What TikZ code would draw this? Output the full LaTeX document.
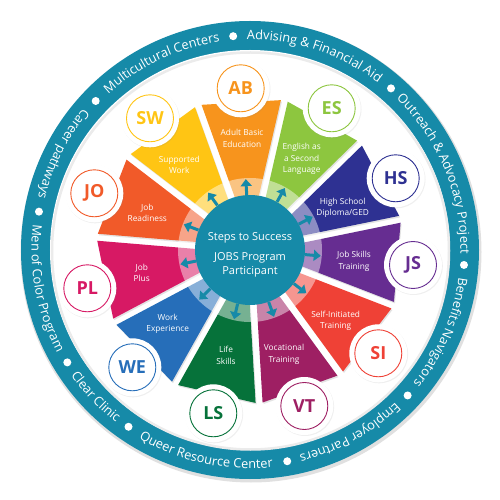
\documentclass[tikz,border=0pt]{standalone}
\usepackage{fontspec}
\setmainfont{Open Sans}
\newfontfamily\osans{Open Sans}
\newfontfamily\osansbold{Open Sans Bold}
\usetikzlibrary{calc,shadows,arrows.meta,decorations.text}
\definecolor{ringteal}{RGB}{22,138,168}
\definecolor{cAB}{RGB}{247,148,29}
\definecolor{cES}{RGB}{141,198,63}
\definecolor{cHS}{RGB}{46,49,146}
\definecolor{cJS}{RGB}{102,45,145}
\definecolor{cSI}{RGB}{239,65,54}
\definecolor{cVT}{RGB}{158,31,99}
\definecolor{cLS}{RGB}{6,114,58}
\definecolor{cWE}{RGB}{38,110,185}
\definecolor{cPL}{RGB}{215,25,100}
\definecolor{cJO}{RGB}{241,90,41}
\definecolor{cSW}{RGB}{255,197,20}
\newcommand{\ringfnt}{\osans\fontsize{12.8}{14}\selectfont}
\newcommand{\cwring}[2]{%
  \path[decorate, decoration={text along path, text align=center, text color=white,
     text={|\ringfnt|#2}}]
     (#1+40:210.5pt) arc[start angle=#1+40, end angle=#1-40, radius=210.5pt];}
\newcommand{\ccwring}[2]{%
  \path[decorate, decoration={text along path, text align=center, text color=white,
     text={|\ringfnt|#2}}]
     (#1-40:218.5pt) arc[start angle=#1-40, end angle=#1+40, radius=218.5pt];}
\tikzset{
  segtext/.style={text=white, align=center, font=\osans\fontsize{8.3}{11.5}\selectfont, inner sep=0pt},
  whitedisc/.style={circle, fill=white, minimum size=58pt, inner sep=0pt,
     drop shadow={opacity=0.12, shadow xshift=0.8pt, shadow yshift=-1pt}},
  labcirc/.style={circle, draw=#1, fill=white, line width=0.9pt, minimum size=47pt, inner sep=0pt,
     text=#1, font=\osansbold\fontsize{18}{18}\selectfont},
  centertext/.style={text=white, font=\osans\fontsize{11}{13}\selectfont, inner sep=0pt},
  spoke/.style={draw=ringteal, line width=3pt, -{Triangle[width=11pt,length=7pt]}},
  segshadow/.style={drop shadow={opacity=0.22, shadow xshift=1pt, shadow yshift=-1.5pt}}
}
\begin{document}
\begin{tikzpicture}
\useasboundingbox (-250pt,-250pt) rectangle (250pt,250pt);
\fill[white] (-250pt,-250pt) rectangle (250pt,250pt);
% outer ring
\fill[black!12] (1pt,-2pt) circle (230.5pt);
\fill[ringteal] (0,0) circle (229pt);
\fill[white] (0,0) circle (200pt);
\draw[black!8, line width=2.5pt] (0.5pt,-1pt) circle (198.5pt);
% ring texts
\cwring{115.25}{Multicultural Centers}
\cwring{71.7}{Advising {\&} Financial Aid}
\cwring{22.45}{Outreach {\&} Advocacy Project}
\cwring{-23.35}{Benefits Navigators}
\cwring{-61.35}{Employer Partners}
\ccwring{-102.25}{Queer Resource Center}
\ccwring{223.55}{Clear Clinic}
\ccwring{190.65}{Men of Color Program}
\ccwring{152.85}{Career pathways}
\foreach \a in {94.5,48.9,-4,-42.7,-80,235.5,211.6,169.7,136}
  \fill[white] (\a:214.5pt) circle (4pt);
% segments
\foreach \i/\col in {0/cAB,1/cES,2/cHS,3/cJS,4/cSI,5/cVT,6/cLS,7/cWE,8/cPL,9/cJO,10/cSW}{
  \pgfmathsetmacro\th{93.4-32.727*\i}
  \pgfmathsetmacro\aa{\th-16.364}
  \pgfmathsetmacro\ab{\th+16.364}
  \fill[\col, segshadow] (\th:12.4pt) -- ($(\aa:153pt)+(\aa+90:3.5pt)$)
      -- ($(\ab:153pt)+(\ab-90:3.5pt)$) -- cycle;
}
% light band
\fill[white, fill opacity=0.45, even odd rule] (0,0) circle (72pt) (0,0) circle (54pt);
% centre
\node[circle, fill=ringteal, minimum size=110pt, inner sep=0pt] (c) at (0,0) {};
\foreach \i in {0,...,10}{
  \pgfmathsetmacro\th{93.4-32.727*\i}
  \coordinate (tip\i) at (\th:71pt);
  \draw[spoke] (c) -- (tip\i);
}
\node[centertext] (c1) at (0,11.7pt) {Steps to Success};
\node[centertext] (c2) at (0,-8.3pt) {JOBS Program};
\node[centertext] (c3) at (0,-21.7pt) {Participant};
% label circles
\foreach \n/\x/\y in {AB/-9.3/161.7, ES/81.7/141.7, HS/145.7/71.7, JS/163/-15,
    SI/128.3/-103.3, VT/54.3/-156, LS/-36.7/-163.3, WE/-117.7/-117.3,
    PL/-162.7/-38.3, JO/-155.7/56.7, SW/-100/131.7}{
  \node[whitedisc] (w\n) at (\x pt,\y pt) {};
  \node[labcirc=c\n] (l\n) at (w\n) {\n};
}
% segment texts
\node[segtext] (tAB) at (-8pt,111.5pt) {Adult Basic\\Education};
\node[segtext] (tES) at (51.7pt,90.7pt) {English as\\a Second\\Language};
\node[segtext] (tHS) at (92.7pt,42pt) {High School\\Diploma/GED};
\node[segtext] (tJS) at (104pt,-11.3pt) {Job Skills\\Training};
\node[segtext] (tSI) at (85.7pt,-70.8pt) {Self-Initiated\\Training};
\node[segtext] (tVT) at (34pt,-104.5pt) {Vocational\\Training};
\node[segtext] (tLS) at (-24pt,-105.5pt) {Life\\Skills};
\node[segtext] (tWE) at (-82.3pt,-74pt) {Work\\Experience};
\node[segtext] (tPL) at (-108.3pt,-22.8pt) {Job\\Plus};
\node[segtext] (tJO) at (-102.7pt,37pt) {Job\\Readiness};
\node[segtext] (tSW) at (-70.7pt,85pt) {Supported\\Work};
\end{tikzpicture}
\end{document}
